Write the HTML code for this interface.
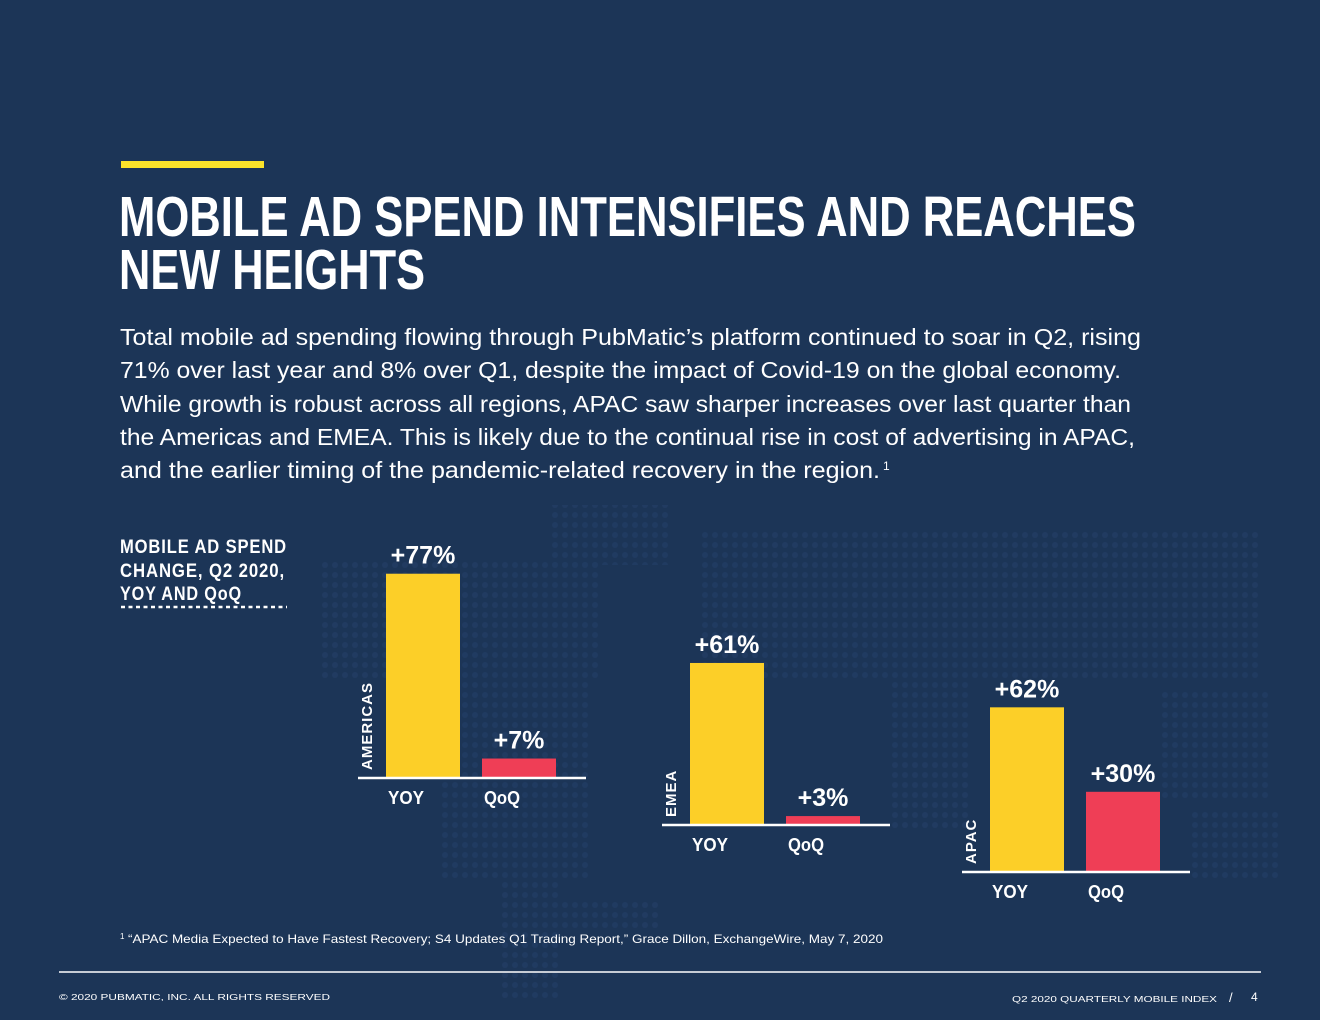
<!DOCTYPE html>
<html><head><meta charset="utf-8"><style>
html,body{margin:0;padding:0;background:#1c3557;}
svg{display:block;}
text{font-family:"Liberation Sans",sans-serif;fill:#fff;}
</style></head><body>
<svg id="chart" width="1320" height="1020" viewBox="0 0 1320 1020" xmlns="http://www.w3.org/2000/svg">
<defs>
<pattern id="dots" width="10" height="10" patternUnits="userSpaceOnUse"><circle cx="5" cy="5" r="3" fill="#25406a"/></pattern>
</defs>
<rect width="1320" height="1020" fill="#1c3557"/>
<g opacity="0.55">
<rect x="320" y="560" width="280" height="120" fill="url(#dots)"/>
<rect x="440" y="680" width="150" height="200" fill="url(#dots)"/>
<rect x="500" y="880" width="60" height="120" fill="url(#dots)"/>
<rect x="550" y="505" width="120" height="60" fill="url(#dots)"/>
<rect x="700" y="530" width="560" height="150" fill="url(#dots)"/>
<rect x="890" y="680" width="80" height="150" fill="url(#dots)"/>
<rect x="1160" y="690" width="110" height="110" fill="url(#dots)"/>
<rect x="1190" y="810" width="90" height="70" fill="url(#dots)"/>
<rect x="560" y="900" width="100" height="30" fill="url(#dots)"/>
</g>
<rect x="121" y="161" width="143" height="7" fill="#fbe32a"/>
<text x="119" y="236" font-size="57" font-weight="bold" textLength="1017" lengthAdjust="spacingAndGlyphs">MOBILE AD SPEND INTENSIFIES AND REACHES</text>
<text x="119" y="289" font-size="57" font-weight="bold" textLength="306" lengthAdjust="spacingAndGlyphs">NEW HEIGHTS</text>
<g font-size="23">
<text x="120" y="345" textLength="1021" lengthAdjust="spacingAndGlyphs">Total mobile ad spending flowing through PubMatic’s platform continued to soar in Q2, rising</text>
<text x="120" y="378" textLength="1001" lengthAdjust="spacingAndGlyphs">71% over last year and 8% over Q1, despite the impact of Covid-19 on the global economy.</text>
<text x="120" y="412" textLength="1011" lengthAdjust="spacingAndGlyphs">While growth is robust across all regions, APAC saw sharper increases over last quarter than</text>
<text x="120" y="445" textLength="1015" lengthAdjust="spacingAndGlyphs">the Americas and EMEA. This is likely due to the continual rise in cost of advertising in APAC,</text>
<text x="120" y="478" textLength="760" lengthAdjust="spacingAndGlyphs">and the earlier timing of the pandemic-related recovery in the region.</text>
<text x="883" y="470" font-size="12">1</text>
</g>
<g font-size="19" font-weight="bold" letter-spacing="1">
<text x="120" y="553" textLength="167" lengthAdjust="spacingAndGlyphs">MOBILE AD SPEND</text>
<text x="120" y="577" textLength="165" lengthAdjust="spacingAndGlyphs">CHANGE, Q2 2020,</text>
<text x="120" y="600" textLength="122" lengthAdjust="spacingAndGlyphs">YOY AND QoQ</text>
<line x1="121" y1="607" x2="287" y2="607" stroke="#fff" stroke-width="2.5" stroke-dasharray="4,3.5"/>
</g>
<g id="bars"></g>
<text x="120" y="939" font-size="8">1</text>
<text x="128" y="943" font-size="12" textLength="755" lengthAdjust="spacingAndGlyphs">“APAC Media Expected to Have Fastest Recovery; S4 Updates Q1 Trading Report,” Grace Dillon, ExchangeWire, May 7, 2020</text>
<line x1="59" y1="972" x2="1261" y2="972" stroke="#fff" stroke-width="1.5"/>
<text x="59" y="1000" font-size="8.5" textLength="271" lengthAdjust="spacingAndGlyphs">© 2020 PUBMATIC, INC. ALL RIGHTS RESERVED</text>
<text x="1012" y="1002" font-size="8.5" textLength="205" lengthAdjust="spacingAndGlyphs">Q2 2020 QUARTERLY MOBILE INDEX</text>
<text x="1229" y="1002" font-size="13">/</text>
<text x="1251" y="1001" font-size="12">4</text>
</svg>
<script>
const regions = ["AMERICAS", "EMEA", "APAC"];
const yoyValues = [77, 61, 62];
const qoqValues = [7, 3, 30];
const seriesLabels = ["YOY", "QoQ"];
const baselines = [777, 824, 871];
const regionX = [358, 662, 962];
const SCALE = 2.64;
const NS = "http://www.w3.org/2000/svg";
const g = document.getElementById("bars");
function mk(tag, attrs){const e=document.createElementNS(NS,tag);for(const k in attrs)e.setAttribute(k,attrs[k]);g.appendChild(e);return e;}
function yScale(v,base){return base - v*SCALE;}
regions.forEach((r,i)=>{
  const x0=regionX[i], b=baselines[i];
  const vals=[yoyValues[i],qoqValues[i]];
  const colors=["#fccf28","#ef3e56"];
  vals.forEach((v,j)=>{
    const bx=x0+28+j*96;
    const top=yScale(v,b);
    const rect=mk("rect",{x:bx,y:top,width:74,height:b-top,fill:colors[j]});
    
    
    const t=mk("text",{x:bx+37,y:top-10,"text-anchor":"middle","font-size":"25","font-weight":"bold"});
    t.textContent="+"+v+"%";
    
    
    const c=mk("text",{x:bx+2,y:b+27,"font-size":"18","font-weight":"bold",textLength:"36",lengthAdjust:"spacingAndGlyphs"});
    c.textContent=seriesLabels[j];
    
    
  });
  const ln=mk("line",{x1:x0,y1:b+1,x2:x0+228,y2:b+1,stroke:"#fff","stroke-width":"2.5"});
  
  
  const rl=mk("text",{x:0,y:0,"font-size":"15","font-weight":"bold","letter-spacing":"1",transform:"translate("+(x0+14)+","+(b-7)+") rotate(-90)"});
  rl.textContent=r;
  
  
});
</script>
</body></html>
